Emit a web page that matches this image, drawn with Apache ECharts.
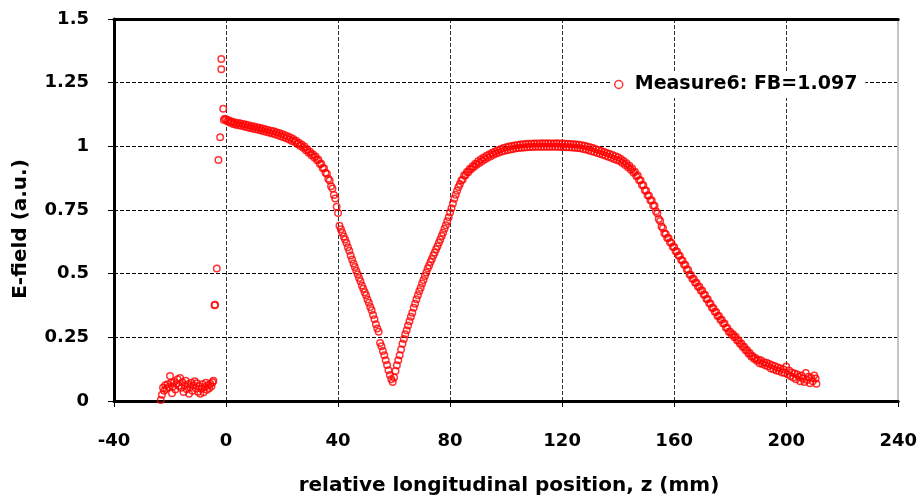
<!DOCTYPE html>
<html>
<head>
<meta charset="utf-8">
<script src="https://cdn.jsdelivr.net/npm/echarts@6/dist/echarts.min.js"></script>
<style>
html,body{margin:0;padding:0;background:#fff;}
#chart{width:920px;height:499px;}
</style>
</head>
<body>
<div id="chart"></div>
<script>
// ---- data (z in mm, E-field in a.u.) ----
const seriesName = 'Measure6: FB=1.097';
const xTicks = [-40, 0, 40, 80, 120, 160, 200, 240];
const yTicks = [0, 0.25, 0.5, 0.75, 1, 1.25, 1.5];

const noisePts = [[-23.3,0.004],[-22.9,0.025],[-22.5,0.052],[-22.1,0.040],[-21.7,0.062],[-21.3,0.048],[-20.9,0.066],[-20.5,0.055],[-20.0,0.098],[-19.6,0.072],[-19.3,0.030],[-18.9,0.058],[-18.5,0.076],[-18.1,0.045],[-17.7,0.068],[-17.3,0.085],[-16.9,0.060],[-16.4,0.090],[-16.0,0.052],[-15.6,0.074],[-15.2,0.035],[-14.8,0.062],[-14.4,0.080],[-14.0,0.046],[-13.6,0.066],[-13.2,0.028],[-12.8,0.055],[-12.4,0.072],[-12.0,0.040],[-11.6,0.062],[-11.2,0.078],[-10.8,0.050],[-10.4,0.070],[-10.0,0.036],[-9.6,0.058],[-9.2,0.028],[-8.8,0.048],[-8.4,0.066],[-8.0,0.034],[-7.6,0.055],[-7.2,0.072],[-6.8,0.044],[-6.4,0.062],[-6.0,0.050],[-5.6,0.068],[-5.2,0.058],[-4.8,0.074],[-4.5,0.080]];

const spikePts = [[-4.1,0.376],[-3.9,0.378],[-3.3,0.520],[-2.7,0.946],[-2.1,1.036],[-1.7,1.303],[-1.7,1.343],[-1.0,1.148]];

const shoulderPts = [[-0.8,1.103],[-0.4,1.108],[0,1.105],[0.5,1.098],[1,1.102],[1.5,1.093],[2,1.098],[2.5,1.088],[3,1.095],[3.5,1.085],[4,1.092],[4.5,1.083],[5,1.091],[5.5,1.081],[6,1.088],[6.5,1.078],[7,1.086],[7.5,1.075],[8,1.083],[8.5,1.072],[9,1.080],[9.5,1.070],[10,1.078],[10.5,1.067],[11,1.075],[11.5,1.065],[12,1.073],[12.5,1.062],[13,1.070],[13.5,1.059],[14,1.067],[14.5,1.056],[15,1.064],[15.5,1.053],[16,1.061],[16.5,1.050],[17,1.059],[17.5,1.047],[18,1.055],[18.5,1.044],[19,1.052],[19.5,1.040],[20,1.048],[20.5,1.036],[21,1.044],[21.5,1.032],[22,1.040],[22.5,1.027],[23,1.035],[23.5,1.021],[24,1.029],[24.5,1.017],[25,1.022],[25.5,1.009],[26,1.014],[26.5,1.001],[27,1.007],[27.5,0.994],[28,0.999],[28.5,0.985],[29,0.989],[29.5,0.975],[30,0.979],[30.5,0.965],[31,0.969],[31.5,0.956],[32,0.960],[32.5,0.945],[33,0.947],[33.5,0.931],[34,0.932],[34.5,0.915],[35,0.914],[35.5,0.896],[36,0.892],[36.5,0.873],[37,0.866],[37.5,0.843],[38,0.834],[38.5,0.809],[39,0.795],[39.5,0.763],[40,0.738]];

const dipPts = [[40.5,0.688],[41,0.674],[41.5,0.661],[42,0.646],[42.5,0.634],[43,0.620],[43.5,0.604],[44,0.590],[44.5,0.571],[45,0.556],[45.5,0.540],[46,0.526],[46.5,0.511],[47,0.498],[47.5,0.483],[48,0.470],[48.5,0.454],[49,0.441],[49.5,0.427],[50,0.415],[50.5,0.399],[51,0.386],[51.5,0.369],[52,0.356],[52.5,0.338],[53,0.321],[53.5,0.301],[54,0.285],[54.5,0.272],[55,0.228],[55.5,0.215],[56,0.196],[56.5,0.180],[57,0.160],[57.5,0.141],[58,0.121],[58.5,0.102],[59,0.085],[59.5,0.075],[60,0.092],[60.5,0.118],[61,0.140],[61.5,0.160],[62,0.180],[62.5,0.202],[63,0.225],[63.5,0.243],[64,0.262],[64.5,0.278],[65,0.296],[65.5,0.313],[66,0.331],[66.5,0.347],[67,0.366],[67.5,0.382],[68,0.400],[68.5,0.415],[69,0.431],[69.5,0.445],[70,0.461],[70.5,0.475],[71,0.491],[71.5,0.505],[72,0.520],[72.5,0.532],[73,0.546],[73.5,0.558],[74,0.571],[74.5,0.583],[75,0.596],[75.5,0.608],[76,0.621],[76.5,0.634],[77,0.648],[77.5,0.661],[78,0.676],[78.5,0.690],[79,0.706],[79.5,0.722],[80,0.740],[80.5,0.757],[81,0.776],[81.5,0.794],[82,0.810],[82.5,0.826],[83,0.840],[83.5,0.852],[84,0.866],[84.5,0.870],[85,0.885],[85.5,0.886],[86,0.899],[86.5,0.898],[87,0.911],[87.5,0.910],[88,0.922],[88.5,0.919],[89,0.932],[89.5,0.928],[90,0.941]];

const plateauPts = [[90.5,0.935],[91,0.949],[91.5,0.942],[92,0.956],[92.5,0.949],[93,0.963],[93.5,0.955],[94,0.969],[94.5,0.961],[95,0.975],[95.5,0.967],[96,0.980],[96.5,0.972],[97,0.985],[97.5,0.976],[98,0.989],[98.5,0.980],[99,0.993],[99.5,0.983],[100,0.996],[100.5,0.986],[101,0.999],[101.5,0.988],[102,1.001],[102.5,0.990],[103,1.003],[103.5,0.992],[104,1.005],[104.5,0.993],[105,1.007],[105.5,0.994],[106,1.008],[106.5,0.995],[107,1.009],[107.5,0.996],[108,1.010],[108.5,0.997],[109,1.010],[109.5,0.997],[110,1.011],[110.5,0.998],[111,1.011],[111.5,0.998],[112,1.011],[112.5,0.998],[113,1.012],[113.5,0.998],[114,1.011],[114.5,0.998],[115,1.012],[115.5,0.998],[116,1.011],[116.5,0.998],[117,1.011],[117.5,0.998],[118,1.012],[118.5,0.998],[119,1.011],[119.5,0.997],[120,1.011],[120.5,0.997],[121,1.010],[121.5,0.996],[122,1.010],[122.5,0.996],[123,1.009],[123.5,0.995],[124,1.008],[124.5,0.994],[125,1.007],[125.5,0.993],[126,1.006],[126.5,0.992],[127,1.004],[127.5,0.990],[128,1.002],[128.5,0.988],[129,0.999],[129.5,0.985],[130,0.996],[130.5,0.981],[131,0.993],[131.5,0.978],[132,0.989],[132.5,0.974],[133,0.986],[133.5,0.971],[134,0.982],[134.5,0.967],[135,0.978],[135.5,0.963],[136,0.974],[136.5,0.959],[137,0.970],[137.5,0.955],[138,0.966],[138.5,0.950],[139,0.961],[139.5,0.946],[140,0.957]];

const fallPts = [[140.5,0.942],[141,0.950],[141.5,0.935],[142,0.942],[142.5,0.927],[143,0.934],[143.5,0.918],[144,0.924],[144.5,0.908],[145,0.913],[145.5,0.896],[146,0.900],[146.5,0.883],[147,0.885],[147.5,0.867],[148,0.867],[148.5,0.848],[149,0.847],[149.5,0.828],[150,0.826],[150.5,0.808],[151,0.806],[151.5,0.788],[152,0.787],[152.5,0.768],[153,0.767],[153.5,0.745],[154,0.737],[154.5,0.715],[155,0.707],[155.5,0.685],[156,0.678],[156.5,0.659],[157,0.656],[157.5,0.640],[158,0.640],[158.5,0.623],[159,0.621],[159.5,0.606],[160,0.605],[160.5,0.588],[161,0.587],[161.5,0.571],[162,0.570],[162.5,0.554],[163,0.552],[163.5,0.536],[164,0.534],[164.5,0.517],[165,0.514],[165.5,0.497],[166,0.495],[166.5,0.480],[167,0.479],[167.5,0.464],[168,0.464],[168.5,0.449],[169,0.449],[169.5,0.434],[170,0.434],[170.5,0.418],[171,0.417],[171.5,0.401],[172,0.400],[172.5,0.384],[173,0.382],[173.5,0.366],[174,0.365],[174.5,0.350],[175,0.349],[175.5,0.334],[176,0.334],[176.5,0.319],[177,0.319],[177.5,0.304],[178,0.304],[178.5,0.288],[179,0.287],[179.5,0.272],[180,0.272],[180.5,0.260],[181,0.262],[181.5,0.250],[182,0.252],[182.5,0.238],[183,0.239],[183.5,0.225],[184,0.226],[184.5,0.212],[185,0.213],[185.5,0.199],[186,0.200],[186.5,0.187],[187,0.188],[187.5,0.175],[188,0.177],[188.5,0.166],[189,0.169],[189.5,0.158],[190,0.162]];

const tailPts = [[190.5,0.148],[191,0.160],[191.5,0.145],[192,0.152],[192.5,0.140],[193,0.150],[193.5,0.136],[194,0.145],[194.5,0.128],[195,0.140],[195.5,0.125],[196,0.136],[196.5,0.120],[197,0.132],[197.5,0.118],[198,0.128],[198.5,0.112],[199,0.125],[199.5,0.110],[200,0.135],[200.5,0.105],[201,0.120],[201.5,0.098],[202,0.112],[202.5,0.092],[203,0.108],[203.5,0.085],[204,0.104],[204.5,0.095],[205,0.078],[205.5,0.100],[206,0.088],[206.5,0.075],[207,0.110],[207.5,0.082],[208,0.095],[208.5,0.070],[209,0.090],[209.5,0.078],[210,0.100],[210.5,0.088],[210.8,0.068]];

// ---- chart ----
const allPts = [].concat(noisePts, spikePts, shoulderPts, dipPts, plateauPts, fallPts, tailPts);
const labelFont = 'DejaVu Sans';
const chart = echarts.init(document.getElementById('chart'), null, {renderer: 'canvas'});

const ringStyle = {color: 'rgba(0,0,0,0)', borderColor: '#ff0000', borderWidth: 1.5};

const option = {
  animation: false,
  backgroundColor: '#ffffff',
  grid: {left: 114, top: 19, right: 21, bottom: 98},
  legend: {
    data: [{name: seriesName, icon: 'circle', itemStyle: ringStyle}],
    left: 610, top: 71,
    itemWidth: 22, itemHeight: 8,
    padding: [4, 8, 4, 4],
    backgroundColor: '#ffffff',
    textStyle: {fontFamily: labelFont, fontWeight: 'bold', fontSize: 19, color: '#000'}
  },
  xAxis: [{
    type: 'value', min: xTicks[0], max: xTicks[xTicks.length - 1], interval: 40,
    axisLine: {show: true, onZero: false, lineStyle: {color: '#000', width: 3}},
    axisTick: {show: true, length: 6, lineStyle: {color: '#000', width: 1}},
    axisLabel: {margin: 31, fontFamily: labelFont, fontWeight: 'bold', fontSize: 18, color: '#000'},
    splitLine: {show: true, lineStyle: {color: '#333333', width: 1, type: 'dashed'}}
  }, {
    type: 'value', position: 'top', min: xTicks[0], max: xTicks[xTicks.length - 1], interval: 40,
    axisLine: {show: true, onZero: false, lineStyle: {color: '#000', width: 3}},
    axisTick: {show: false}, axisLabel: {show: false}, splitLine: {show: false}
  }],
  yAxis: [{
    type: 'value', min: yTicks[0], max: yTicks[yTicks.length - 1], interval: 0.25,
    axisLine: {show: true, onZero: false, lineStyle: {color: '#000', width: 3}},
    axisTick: {show: true, length: 6, lineStyle: {color: '#000', width: 1}},
    axisLabel: {margin: 25, fontFamily: labelFont, fontWeight: 'bold', fontSize: 18, color: '#000'},
    splitLine: {show: true, lineStyle: {color: '#000000', width: 1, type: 'dashed'}}
  }, {
    type: 'value', position: 'right', min: yTicks[0], max: yTicks[yTicks.length - 1], interval: 0.25,
    axisLine: {show: true, onZero: false, lineStyle: {color: '#c4c4c4', width: 2}},
    axisTick: {show: false}, axisLabel: {show: false}, splitLine: {show: false}
  }],
  series: [{
    name: seriesName,
    type: 'scatter',
    xAxisIndex: 0, yAxisIndex: 0,
    symbol: 'circle', symbolSize: 6.5,
    itemStyle: ringStyle,
    emphasis: {disabled: true},
    data: allPts,
    z: 3
  }],
  graphic: [{
    type: 'text', x: 509, y: 486,
    style: {text: 'relative longitudinal position, z (mm)', font: 'bold 20px "DejaVu Sans"', fill: '#000',
      textAlign: 'center', textVerticalAlign: 'middle', align: 'center', verticalAlign: 'middle'}
  }, {
    type: 'text', x: 21, y: 229, rotation: Math.PI / 2,
    style: {text: 'E-field (a.u.)', font: 'bold 20px "DejaVu Sans"', fill: '#000',
      textAlign: 'center', textVerticalAlign: 'middle', align: 'center', verticalAlign: 'middle'}
  }]
};
chart.setOption(option);
</script>
</body>
</html>
